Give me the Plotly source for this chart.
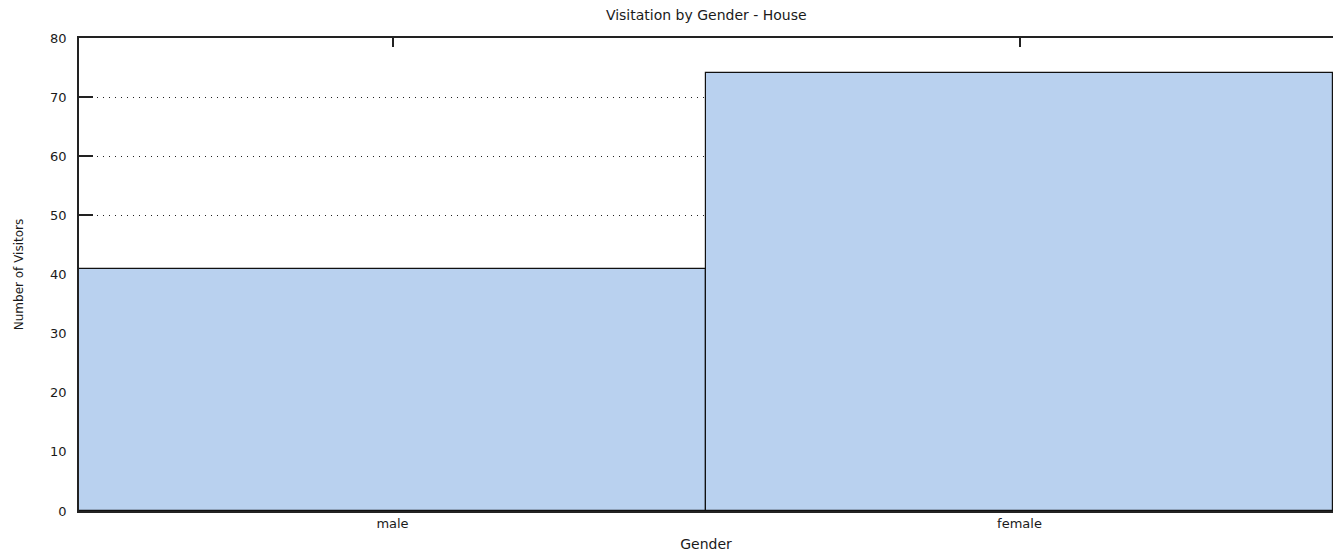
import plotly.graph_objects as go

categories = ["male", "female"]
visitors = [41, 74]
y_ticks = [0, 10, 20, 30, 40, 50, 60, 70, 80]

fig = go.Figure()
fig.add_trace(go.Bar(
    x=categories, y=visitors, width=1,
    marker=dict(color="#b9d1ef", line=dict(color="#111111", width=1.2)),
))

FAM = "DejaVu Sans, Liberation Sans, Arial, sans-serif"
H = 544  # page body has an 8px margin; keep the whole figure inside the 1341x560 window
fig.update_layout(
    width=1325, height=H,
    margin=dict(l=71, r=0, t=30, b=41, autoexpand=False),
    paper_bgcolor="white", plot_bgcolor="white",
    bargap=0, showlegend=False,
    font=dict(family=FAM, size=13, color="#1a1a1a"),
    title=dict(text="Visitation by Gender - House", x=0.527, xanchor="center",
               y=1 - 7 / H, yanchor="middle", font=dict(size=14), automargin=False),
    xaxis=dict(
        type="category", range=[-0.5, 1.5], automargin=False,
        showline=True, linecolor="#222222", linewidth=1.5, mirror="ticks",
        ticks="inside", ticklen=9, tickwidth=1.5, tickcolor="#222222",
        showgrid=False, layer="below traces",
        title=dict(text="Gender", font=dict(size=14), standoff=19),
        tickfont=dict(size=13),
    ),
    yaxis=dict(
        range=[0, 80], tickvals=y_ticks, automargin=False,
        showline=True, linecolor="#222222", linewidth=1.5, mirror=True,
        ticks="inside", ticklen=14, tickwidth=1.5, tickcolor="#222222",
        showgrid=True, gridcolor="#222222", gridwidth=1, griddash="1px,5px",
        zeroline=False, layer="below traces", ticklabelstandoff=8,
        title=dict(text="Number of Visitors", font=dict(size=12), standoff=24),
        tickfont=dict(size=13),
    ),
)

fig.write_html("out.html")
